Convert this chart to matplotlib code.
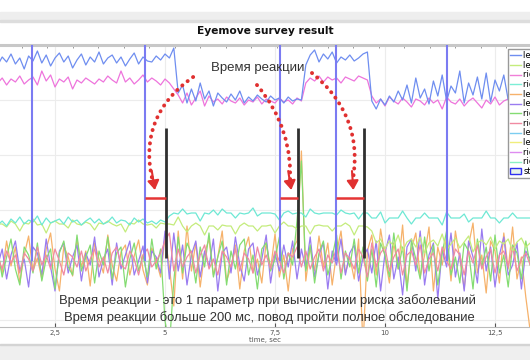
import numpy as np
import matplotlib
matplotlib.use('Agg')
import matplotlib.pyplot as plt
from matplotlib.lines import Line2D
from matplotlib.patches import Patch, Rectangle
from matplotlib.ticker import MultipleLocator

# sampling of the traces (sec)
T0 = 1.2
DT = 0.1

left_x = [196, 204, 199, 207, 197, 203, 192, 205, 200, 210, 198, 206, 195, 203, 208, 199, 205, 193, 201, 207,
          196, 204, 199, 209, 197, 203, 206, 198, 204, 195, 202, 208, 197, 204, 200, 199, 205, 201, 207, 203,
          213,
          168, 176, 158, 172, 160, 178, 162, 170, 155, 168, 163, 159, 167, 161, 170, 158, 164, 160, 166, 162,
          159, 165, 161, 163, 158, 164, 160, 162, 161,
          196, 206, 211, 199, 207, 202, 209, 198, 204, 201, 206, 200, 203, 207, 209,
          160, 152, 162, 156, 165, 159, 170, 161, 176, 158, 183, 163, 172, 157, 180, 165, 186, 160, 175, 168,
          190, 158, 178, 166, 184, 162, 188, 159, 181, 170, 186, 161, 177, 165, 183, 158, 172]

right_x = [178, 183, 176, 182, 179, 185, 177, 181, 184, 176, 190, 180, 186, 174, 182, 179, 184, 172, 181, 178,
           183, 180, 177, 182, 179, 185, 181, 178, 190, 179, 183, 177, 181, 186, 179, 183, 180, 176, 182, 178,
           172,
           166, 158, 168, 156, 163, 170, 155, 165, 159, 162, 157, 164, 160, 158, 163, 156, 161, 159, 164, 157,
           162, 160, 158, 163, 159, 161, 157, 163, 160,
           178, 183, 180, 185, 179, 184, 181, 183, 178, 184, 182, 180, 185, 183, 181,
           165, 158, 162, 155, 164, 160, 157, 163, 159, 154, 162, 160, 156, 163, 158, 161, 152, 164, 159, 157,
           162, 155, 160, 163, 158, 153, 161, 157, 164, 156, 160, 162, 154, 159, 163, 157, 161]

right_y = [36, 40, 35, 42, 38, 44, 37, 41, 39, 45, 36, 43, 38, 40, 42, 37, 44, 39, 41, 36,
           40, 43, 38, 42, 37, 39, 44, 38, 41, 40, 36, 43, 39, 42, 38, 40, 37, 41, 39, 45,
           48, 47, 52, 47, 48, 48, 40, 48, 47, 51, 46, 52, 48, 48, 43, 48, 47, 48, 53, 45,
           48, 48, 48, 47, 41, 48, 50, 47, 48, 48, 44, 52, 48, 47, 48, 48, 48, 46, 51, 48,
           47, 48, 42, 48, 48,
           43, 43, 49, 38, 43, 43, 43, 50, 43, 37, 43, 43, 48, 43, 43, 43, 36, 49, 43, 43,
           43, 47, 39, 43, 43, 43, 50, 43, 43, 38, 43, 43, 48, 43, 43, 43, 43]

left_y = [37, 37, 34, 40, 37, 30, 38, 37, 42, 36, 37, 28, 38, 40, 37, 37, 33, 41, 37, 36,
          39, 37, 31, 38, 37, 40, 37, 35, 37, 29, 38, 37, 41, 37, 36, 37, 33, 38, 37, 37,
          36, 44, 35, 29, 35, 38, 35, 26, 35, 35, 31, 36, 35, 35, 27, 35, 38, 35, 35, 30,
          35, 35, 36, 28, 35, 39, 35, 35, 32, 35, 35, 27, 35, 36, 35, 35, 30, 35, 35, 38,
          35, 26, 35, 35, 34,
          30, 18, 22, 12, 20, 15, 26, 10, 19, 22, 14, 24, 8, 18, 21, 15, 27, 11, 17, 23,
          13, 19, 25, 9, 18, 21, 16, 24, 12, 20, 17, 22, 10, 19, 23, 14, 18]

left_vx = [8, -12, 20, -5, 14, -22, 6, 25, -10, 3, -18, 12, 28, -8, -30, 15, 4, -15, 22, -6,
           10, -25, 18, 2, -12, 26, -4, -20, 9, 16, -14, 5, 21, -9, -24, 13, 0, -16, 24, -6,
           -45, 30, -18, 35, -10,
           18, -26, 8, 22, -14, 4, 30, -20, -6, 16, -28, 10, 24, -12, 2, -22, 19, -8, 27, -16,
           6, -30, 12, 20, 110,
           -20, 14, -10, 25, -6, 18, -24, 8, 30, -12, 4, -18, 22, -85, 10,
           26, -14, 32, 4, -22, 18, -8, 36, -26, 12, 28, -16, 6, 34, -30, 14, -4, 24, -20, 30,
           2, -28, 16, 38, -12, 6, -32, 20, 10, -22, 28, -8, 34, -18, 4, -36, -70]

left_vy = [-4, 12, -18, 6, 20, -10, 2, -26, 14, 8, -14, 22, -6, -30, 10, 18, -12, 4, 16, -20,
           8, -4, 24, -16, 2, 12, -24, 18, -8, 6, 20, -14, 0, 15, -22, 10, 4, -12, 30, -18,
           28, -10, 16, -24, 6, 20, -16, 10, -6, 22, -30, 8, 14, -12, 24, -4, -20, 12, 18, -14,
           2, 26, -22, 8, -10, 16, -6, 20, -18, 12,
           -8, 24, -16, 6, 18, -28, 10, -4, 22, -14, 8, 16, -20, 4, 12,
           -12, 20, -30, 8, 26, -18, 4, -34, 14, 22, -10, 30, -24, 6, 18, -38, 12, -6, 28, -16,
           8, -30, 20, 4, -22, 32, -10, 14, -26, 6, 24, -14, -4, 18, -28, 10, 2]

right_vx = [10, -16, 4, 22, -8, -24, 14, 6, -12, 18, -20, 2, 12, -28, 8, 20, -6, -14, 26, -10,
            4, 16, -22, 10, -4, 24, -18, 8, 14, -26, 2, 18, -10, 6, -16, 22, -8, 12, -60, -85,
            -20, 24, -12, 18, 8, -22, 14, -6, 28, -16, 4, 20, -24, 10, -8, 16, 22, -14, 6, -28,
            12, 18, -10, 2, 24, -18, 8, -4, 40, 100,
            -10, 16, -22, 8, 20, -14, 4, 26, -18, 10, -6, 22, -12, 14, -20,
            12, -26, 18, 6, -16, 28, -8, 14, -30, 20, 2, -18, 24, -10, 16, -24, 8, 30, -14, 4,
            -22, 18, 10, -28, 22, -6, 14, -20, 26, -12, 6, -26, 16, 8, -18, 20, -4]

right_vy = [4, -8, 10, -2, 6, -12, 8, 2, -10, 14, -4, 6, -8, 12, 0, -14, 8, 4, -6, 10,
            -10, 2, 12, -6, 4, -12, 8, 14, -4, -8, 10, 2, -14, 6, 12, -6, 0, 8, 20, 28,
            -10, 12, -6, 4, 10, -12, 6, 16, -8, 2, -14, 10, 4, -6, 12, -10, 8, 2, -12, 14,
            -4, 6, -8, 10, 0, -12, 8, 4, 14, -6,
            10, -8, 4, 12, -10, 6, -2, 14, -12, 8, 2, -8, 12, 4, -16,
            18, -6, 8, 14, -10, 4, 12, -14, 6, 10, -4, 16, -12, 2, 8, -10, 14, 0, -8, 12,
            6, -14, 10, -2, 16, -8, 4, 12, -12, 6, 10, -6, 14, -10, 2, 8, -4]

# stimulus onsets and reactions (sec)
stim_t = [1.98, 4.55, 7.61, 8.89, 11.41]
react_t = [5.02, 8.02, 9.52]

legend_labels = ['left x', 'left y', 'right x', 'right y', 'left vx', 'left vy', 'right vx', 'right vy',
                 'left ax', 'left ay', 'right ax', 'right ay']
legend_colors = ['#6f8ef0', '#c4ec7c', '#f07fd8', '#7ceed6', '#f6b26b', '#9a7cf0', '#84dc72', '#f08aa2',
                 '#7ccdf0', '#f0ee7c', '#de8cf0', '#8cf0c4']

fig = plt.figure(figsize=(5.3, 3.6), dpi=100)
W, H = 530, 360

# window chrome
fig.patches.append(Rectangle((0, 1 - 20 / H), 1, 8 / H, transform=fig.transFigure, color='#eeeeee', zorder=0))
fig.patches.append(Rectangle((0, 1 - 21.5 / H), 1, 1.5 / H, transform=fig.transFigure, color='#dddddd', zorder=0))
fig.patches.append(Rectangle((0, 0), 1, 15 / H, transform=fig.transFigure, color='#efefef', zorder=0))
fig.patches.append(Rectangle((0, 15 / H), 1, 1.5 / H, transform=fig.transFigure, color='#d4d4d4', zorder=0))

ax = fig.add_axes([0, 1 - 327 / H, 1, 282 / H])
ax.set_xlim(1.25, 1.25 + W / 44)
ax.set_ylim(-66, 216)

t = lambda s: T0 + DT * np.arange(len(s))

ax.axhline(0, color='#a9d6cc', lw=1, zorder=1)
ax.plot(t(left_vx), left_vx, color='#f6b26b', lw=0.9)
ax.plot(t(left_vy), left_vy, color='#9a7cf0', lw=0.9)
ax.plot(t(right_vx), right_vx, color='#84dc72', lw=0.9)
ax.plot(t(right_vy), right_vy, color='#f08aa2', lw=0.9)
ax.plot(t(left_y), left_y, color='#c4ec7c', lw=0.9)
ax.plot(t(right_y), right_y, color='#6ee8d4', lw=0.9)
ax.plot(t(right_x), right_x, color='#ee74dc', lw=0.9)
ax.plot(t(left_x), left_x, color='#6f8ef0', lw=0.9)

ax.vlines(stim_t, 0, 216, color='#7b7bf2', lw=1.5, zorder=3)
ax.vlines(react_t, 3, 133, color='#303030', lw=2, zorder=4)
ax.hlines([63] * len(react_t), stim_t[1:4], react_t, color='#e53535', lw=1.8, zorder=4)

# dotted arrows: curve + solid head
RED = '#e03030'
dots = dict(arrowstyle='-', color=RED, lw=2.8, linestyle=(0, (0.05, 1.7)),
            capstyle='round', shrinkA=0, shrinkB=0)
head = dict(arrowstyle='-|>,head_length=0.55,head_width=0.35', color=RED, lw=1.5,
            shrinkA=0, shrinkB=0)
arrows = [((5.64, 184), (4.74, 76), 0.35, (4.70, 90)),
          ((7.09, 176), (7.84, 76), -0.2, (7.80, 90)),
          ((8.34, 188), (9.25, 76), -0.3, (9.25, 90))]
for start, end, rad, pre in arrows:
    ax.annotate('', xy=end, xytext=start,
                arrowprops=dict(connectionstyle='arc3,rad=%s' % rad, **dots), zorder=5)
    ax.annotate('', xy=(end[0] + 0.03, end[1] - 5), xytext=pre, arrowprops=head, zorder=5)

ax.text(7.11, 193, 'Время реакции', ha='center', va='center', fontsize=9.5,
        family='Liberation Sans', color='#333333', zorder=6)
ax.text(7.33, -40, 'Время реакции - это 1 параметр при вычислении риска заболеваний',
        ha='center', va='center', fontsize=9.4, family='Liberation Sans', color='#333333', zorder=6)
ax.text(7.37, -57, 'Время реакции больше 200 мс, повод пройти полное обследование',
        ha='center', va='center', fontsize=9.4, family='Liberation Sans', color='#333333', zorder=6)

# axes styling
for s in ['left', 'right']:
    ax.spines[s].set_visible(False)
ax.spines['top'].set_color('#c8c8c8')
ax.spines['top'].set_linewidth(2.2)
ax.spines['bottom'].set_color('#bbbbbb')
ax.spines['bottom'].set_linewidth(0.8)
ax.set_xticks([2.5, 5, 7.5, 10, 12.5])
ax.set_xticklabels(['2,5', '5', '7,5', '10', '12,5'])
ax.xaxis.set_minor_locator(MultipleLocator(0.58))
ax.tick_params(axis='x', which='major', direction='in', length=3, labelsize=5, colors='#555555', pad=2)
ax.tick_params(axis='x', which='minor', direction='in', length=2, top=True, bottom=False, colors='#888888')
ax.set_yticks([161, 106, 51, -4, -59])
ax.tick_params(axis='y', left=False, labelleft=False)
ax.grid(True, color='#ececec', lw=0.8, zorder=0)
ax.set_axisbelow(True)
ax.set_xlabel('time, sec', fontsize=5, color='#555555', labelpad=1)

fig.text(0.5, 1 - 31 / H, 'Eyemove survey result', ha='center', va='center',
         fontsize=7.7, fontweight='bold', color='#111111')

handles = [Line2D([], [], color=c, lw=1) for c in legend_colors]
handles.append(Patch(facecolor='#e8f4e8', edgecolor='#3030f0', lw=1))
ax.legend(handles, legend_labels + ['stimulus'], loc='upper left',
          bbox_to_anchor=(508 / W, 1 - 49 / H), bbox_transform=fig.transFigure,
          fontsize=6.0, labelspacing=0.08, handlelength=1.3, handletextpad=0.3,
          borderpad=0.25, borderaxespad=0, fancybox=False, edgecolor='#999999', framealpha=1)

fig.savefig('out.png', dpi=100)
